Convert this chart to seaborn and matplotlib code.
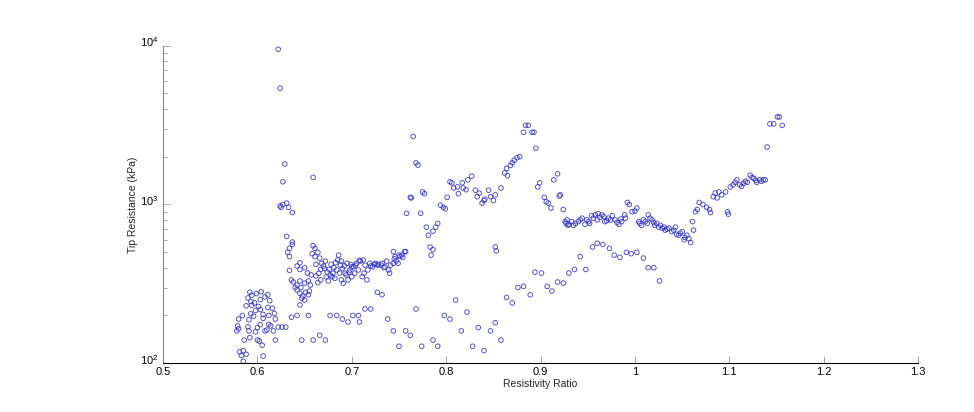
import numpy as np
import pandas as pd
import matplotlib
matplotlib.use("Agg")
import matplotlib.pyplot as plt
import matplotlib.transforms as mtransforms
import seaborn as sns
from matplotlib.ticker import LogLocator, NullFormatter, FixedLocator

# ---------------- data ----------------
# bottom-left cluster
x_a = [0.581, 0.583, 0.585, 0.588, 0.585, 0.606, 0.605, 0.586, 0.600, 0.602, 0.619, 0.592,
       0.578, 0.580, 0.591, 0.598, 0.600, 0.608, 0.610, 0.614, 0.617, 0.579, 0.590, 0.603, 0.612,
       0.580, 0.591, 0.606, 0.619, 0.622, 0.626, 0.630, 0.584, 0.593, 0.606, 0.612, 0.618, 0.596,
       0.588, 0.594, 0.601, 0.611, 0.616, 0.598, 0.603, 0.590, 0.594, 0.603, 0.611, 0.593, 0.597,
       0.592, 0.604, 0.599, 0.608, 0.613]
y_a = [118, 112, 120, 114, 103, 111, 130, 140, 140, 138, 140, 145,
       160, 165, 160, 158, 168, 160, 162, 172, 160, 172, 170, 175, 176,
       190, 188, 192, 190, 169, 169, 169, 200, 205, 203, 200, 206, 198,
       230, 232, 228, 225, 222, 215, 218, 258, 268, 252, 270, 245, 240,
       280, 282, 275, 262, 248]

# spike and 0.62-0.67 segment
x_b = [0.622, 0.624, 0.629, 0.627, 0.624, 0.627, 0.631, 0.637, 0.659, 0.625, 0.633,
       0.631, 0.637, 0.637, 0.634, 0.632, 0.634, 0.659, 0.661, 0.658, 0.661, 0.664,
       0.645, 0.642, 0.645, 0.650, 0.634, 0.636, 0.638, 0.642, 0.645, 0.650, 0.654, 0.656,
       0.642, 0.645, 0.647, 0.650, 0.648, 0.654, 0.655, 0.651, 0.646, 0.640, 0.645,
       0.662, 0.665, 0.662, 0.667, 0.664, 0.657, 0.653]
y_b = [9500, 5400, 1800, 1390, 980, 1000, 1020, 890, 1480, 960, 960,
       630, 580, 560, 530, 500, 470, 550, 530, 490, 470, 500,
       430, 410, 390, 400, 385, 335, 325, 311, 330, 320, 330, 311,
       290, 276, 257, 250, 265, 270, 285, 280, 300, 300, 233,
       420, 369, 355, 335, 322, 360, 370]

# band 0.666-0.757
x_c = [0.668, 0.672, 0.670, 0.674, 0.677, 0.679, 0.680, 0.682, 0.684, 0.686, 0.685, 0.688,
       0.689, 0.691, 0.693, 0.695, 0.696, 0.698, 0.700, 0.702, 0.703, 0.705, 0.707, 0.709,
       0.711, 0.712, 0.714, 0.716, 0.717, 0.719, 0.722, 0.725, 0.728, 0.732, 0.735, 0.739,
       0.740, 0.744, 0.747, 0.749, 0.751, 0.753, 0.756, 0.744, 0.746, 0.737,
       0.700, 0.704, 0.708, 0.713, 0.720, 0.724, 0.727, 0.731, 0.734, 0.741, 0.745, 0.750,
       0.754, 0.757, 0.671, 0.676, 0.681, 0.687, 0.690, 0.694, 0.699, 0.697, 0.692, 0.678,
       0.683, 0.689, 0.666, 0.667, 0.673, 0.675]
y_c = [426, 440, 410, 375, 360, 351, 369, 343, 387, 480, 447, 415,
       335, 319, 369, 426, 335, 387, 351, 405, 369, 426, 387, 440,
       351, 447, 415, 335, 387, 426, 405, 426, 415, 426, 405, 387,
       369, 426, 440, 426, 470, 480, 505, 505, 470, 440,
       405, 415, 445, 369, 410, 420, 420, 415, 400, 415, 455, 480,
       465, 505, 395, 390, 400, 370, 395, 360, 420, 375, 410, 420,
       430, 440, 460, 390, 350, 330]

# lower scatter 0.63-0.78
x_d = [0.636, 0.642, 0.654, 0.647, 0.659, 0.666, 0.672, 0.677, 0.684, 0.690, 0.696, 0.701,
       0.707, 0.708, 0.714, 0.720, 0.727, 0.732, 0.738, 0.744, 0.757, 0.762, 0.750, 0.768, 0.774]
y_d = [195, 200, 200, 140, 140, 150, 140, 200, 200, 190, 182, 200,
       200, 182, 220, 220, 280, 270, 190, 160, 160, 150, 128, 220, 128]

# jump 0.757-0.81
x_e = [0.758, 0.773, 0.762, 0.763, 0.775, 0.777, 0.765, 0.768, 0.770, 0.779, 0.781, 0.783,
       0.786, 0.784, 0.786, 0.789, 0.791, 0.794, 0.797, 0.799, 0.801, 0.804, 0.806, 0.808]
y_e = [880, 880, 1110, 1100, 1200, 1170, 2680, 1830, 1770, 720, 640, 540,
       520, 480, 680, 720, 760, 990, 960, 940, 1110, 1390, 1370, 1270]

# upper 0.81-0.93
x_f = [0.812, 0.813, 0.817, 0.818, 0.821, 0.823, 0.827, 0.831, 0.833, 0.835, 0.838, 0.840,
       0.841, 0.845, 0.847, 0.850, 0.852, 0.858, 0.862, 0.864, 0.865, 0.870, 0.872, 0.875,
       0.878, 0.868, 0.882, 0.884, 0.887, 0.891, 0.893, 0.895, 0.897, 0.899, 0.904, 0.906,
       0.908, 0.911, 0.914, 0.918, 0.920, 0.924, 0.927, 0.929, 0.852, 0.853, 0.921]
y_f = [1290, 1170, 1370, 1270, 1240, 1430, 1510, 1230, 1120, 1180, 1020, 1060,
       1080, 1230, 1120, 1060, 1150, 1270, 1580, 1690, 1520, 1830, 1900, 1970,
       2000, 1760, 2850, 3150, 3150, 2850, 2850, 2260, 1290, 1370, 1110, 1040,
       1020, 950, 1430, 1560, 1130, 930, 760, 740, 540, 510, 1150]

# lower arc 0.78-1.03
x_g = [0.786, 0.791, 0.798, 0.804, 0.810, 0.816, 0.822, 0.828, 0.834, 0.840, 0.847, 0.852,
       0.858, 0.864, 0.870, 0.876, 0.882, 0.889, 0.894, 0.901, 0.907, 0.912, 0.918, 0.924,
       0.930, 0.936, 0.942, 0.948, 0.955, 0.960, 0.966, 0.973, 0.978, 0.984, 0.991, 0.996,
       1.002, 1.009, 1.014, 1.020, 1.026]
y_g = [140, 128, 200, 190, 250, 160, 210, 128, 168, 120, 160, 180,
       140, 260, 240, 300, 305, 270, 375, 370, 305, 285, 325, 320,
       370, 390, 470, 390, 540, 570, 560, 530, 480, 465, 500, 490,
       500, 460, 400, 400, 330]

# band 0.926-1.062
x_h = [0.926, 0.930, 0.933, 0.937, 0.940, 0.944, 0.947, 0.951, 0.954, 0.958, 0.961, 0.965,
       0.968, 0.972, 0.976, 0.979, 0.983, 0.986, 0.989, 0.990, 0.928, 0.935, 0.942, 0.949,
       0.956, 0.963, 0.967, 0.970, 0.974, 0.981, 0.985, 0.960, 0.952,
       0.992, 0.994, 0.997, 1.000, 1.002,
       1.004, 1.007, 1.011, 1.014, 1.018, 1.021, 1.025, 1.029, 1.032, 1.036, 1.039, 1.043,
       1.046, 1.050, 1.053, 1.057, 1.059, 1.061, 1.062, 1.009, 1.016, 1.023, 1.027, 1.034,
       1.041, 1.048, 1.055, 1.005, 1.013, 1.020, 1.031, 1.044, 1.052]
y_h = [780, 750, 780, 760, 780, 820, 750, 780, 850, 860, 875, 860,
       780, 820, 850, 800, 750, 780, 860, 820, 800, 740, 800, 800,
       820, 830, 840, 790, 800, 770, 810, 800, 760,
       1030, 1000, 900, 910, 950,
       780, 740, 780, 860, 800, 740, 720, 710, 690, 710, 675, 720,
       640, 675, 620, 610, 575, 780, 690, 800, 820, 760, 740, 700,
       690, 660, 640, 760, 760, 770, 720, 650, 600]

# rise 1.064-1.156
x_i = [1.064, 1.066, 1.068, 1.072, 1.076, 1.080, 1.079, 1.083, 1.085, 1.089, 1.092, 1.096,
       1.087, 1.098, 1.099, 1.101, 1.104, 1.108, 1.111, 1.115, 1.119, 1.122, 1.126, 1.129,
       1.132, 1.136, 1.138, 1.106, 1.113, 1.117, 1.124, 1.128, 1.134,
       1.140, 1.143, 1.147, 1.151, 1.156, 1.153]
y_i = [900, 930, 1030, 1000, 960, 890, 930, 1120, 1180, 1200, 1150, 1200,
       1100, 900, 870, 1290, 1330, 1430, 1330, 1360, 1380, 1530, 1460, 1380,
       1430, 1430, 1430, 1380, 1300, 1400, 1480, 1420, 1400,
       2300, 3220, 3220, 3560, 3150, 3560]

resistivity_ratio = x_a + x_b + x_c + x_d + x_e + x_f + x_g + x_h + x_i
tip_resistance = y_a + y_b + y_c + y_d + y_e + y_f + y_g + y_h + y_i

x_ticks = [0.5, 0.6, 0.7, 0.8, 0.9, 1.0, 1.1, 1.2, 1.3]
x_tick_labels = ["0.5", "0.6", "0.7", "0.8", "0.9", "1", "1.1", "1.2", "1.3"]
y_ticks = [100, 1000, 10000]
y_tick_labels = [r"$10^{2}$", r"$10^{3}$", r"$10^{4}$"]

df = pd.DataFrame({"Resistivity Ratio": resistivity_ratio,
                   "Tip Resistance (kPa)": tip_resistance})

# ---------------- plot ----------------
sns.set_style("ticks")
plt.rcParams["font.family"] = ["Liberation Sans", "DejaVu Sans"]
plt.rcParams["mathtext.fontset"] = "custom"
plt.rcParams["mathtext.rm"] = "Liberation Sans"
plt.rcParams["mathtext.it"] = "Liberation Sans"

fig = plt.figure(figsize=(9.74, 4.12), dpi=100)
ax = fig.add_axes([0.1674, 0.1182, 0.7752, 0.7709])

sns.scatterplot(data=df, x="Resistivity Ratio", y="Tip Resistance (kPa)", ax=ax,
                marker="o", s=11, facecolor="none", edgecolor="#2b2bc8",
                linewidth=0.65, alpha=0.85, legend=False)

ax.set_yscale("log")
ax.set_xlim(0.5, 1.3)
ax.set_ylim(100, 10000)

ax.xaxis.set_major_locator(FixedLocator(x_ticks))
ax.set_xticklabels(x_tick_labels)
ax.yaxis.set_major_locator(FixedLocator(y_ticks))
ax.set_yticklabels(y_tick_labels)
ax.yaxis.set_minor_locator(LogLocator(base=10, subs=np.arange(2, 10)))
ax.yaxis.set_minor_formatter(NullFormatter())

for s in ["top", "right"]:
    ax.spines[s].set_visible(False)
ax.spines["left"].set_color("#888888")
ax.spines["bottom"].set_color("black")
ax.spines["left"].set_linewidth(0.8)
ax.spines["bottom"].set_linewidth(0.8)

ax.tick_params(axis="x", which="major", direction="in", length=5, width=0.6,
               color="#999999", labelsize=8, pad=3, labelcolor="black")
ax.tick_params(axis="y", which="major", direction="in", length=5, width=0.6,
               color="#999999", labelsize=8, pad=2, labelcolor="black")
ax.tick_params(axis="y", which="minor", direction="in", length=3, width=0.6,
               color="#999999")

# nudge y tick labels up a little so the base "10" sits on the tick
offset = mtransforms.ScaledTranslation(-1 / 72, 3 / 72, fig.dpi_scale_trans)
for lbl in ax.get_yticklabels():
    lbl.set_transform(lbl.get_transform() + offset)

ax.set_xlabel("Resistivity Ratio", fontsize=7.5, labelpad=1)
ax.set_ylabel("Tip Resistance (kPa)", fontsize=7.5, labelpad=2)

fig.savefig("out.png", dpi=100)
